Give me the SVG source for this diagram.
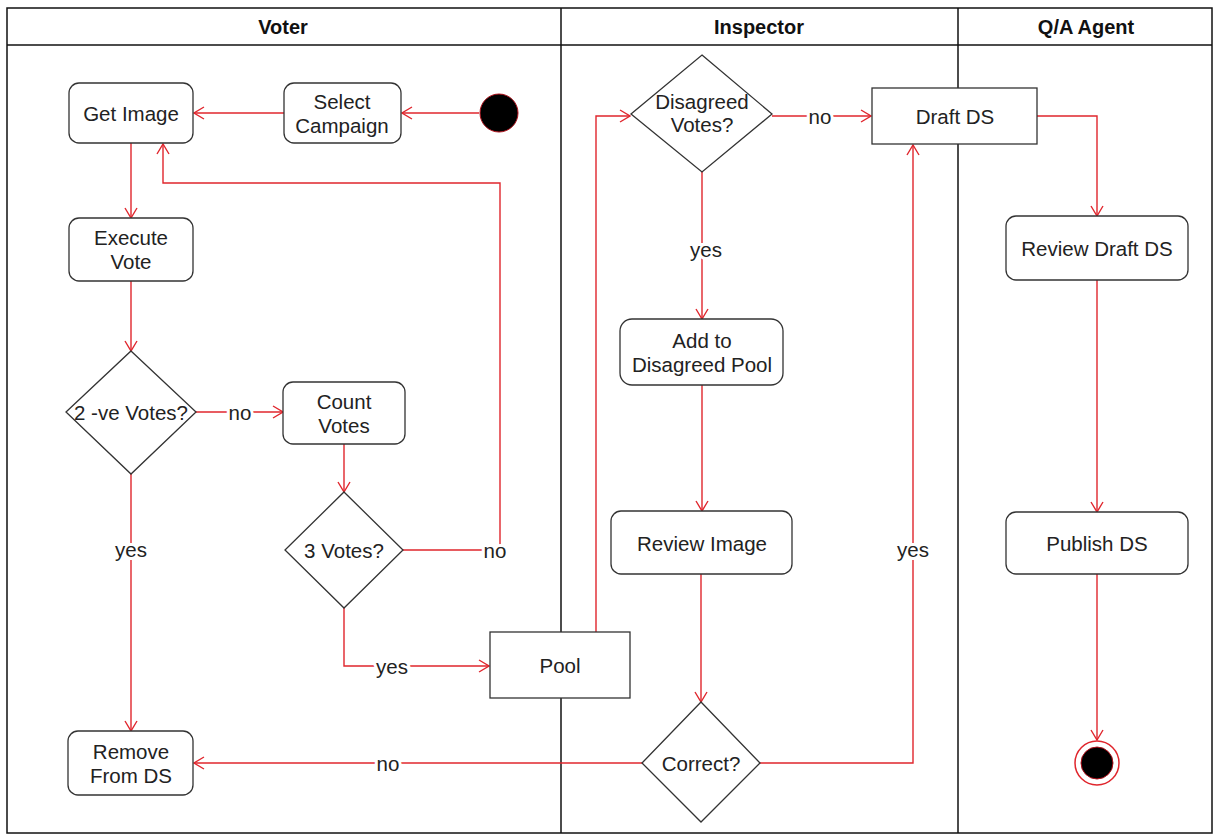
<svg xmlns="http://www.w3.org/2000/svg" width="1219" height="839" viewBox="0 0 1219 839">
<style>
.lane{fill:none;stroke:#111;stroke-width:1.5}
.hdr{font-family:"Liberation Sans",Arial,sans-serif;font-size:20px;font-weight:bold;fill:#111;text-anchor:middle}
.box{fill:#fff;stroke:#333;stroke-width:1.3}
.t{font-family:"Liberation Sans",Arial,sans-serif;font-size:20.5px;fill:#222;text-anchor:middle;dominant-baseline:central}
.c{fill:none;stroke:#e0262d;stroke-width:1.4;marker-end:url(#arr)}
.lbl{font-family:"Liberation Sans",Arial,sans-serif;font-size:20.5px;fill:#222;text-anchor:middle;dominant-baseline:central;stroke:#fff;stroke-width:6;paint-order:stroke}
</style>
<defs>
<marker id="arr" markerUnits="userSpaceOnUse" markerWidth="12" markerHeight="14" viewBox="0 0 12 14" refX="11" refY="7" orient="auto">
<path d="M1,1 L11,7 L1,13" fill="none" stroke="#e0262d" stroke-width="1.4"/>
</marker>
</defs>
<rect width="1219" height="839" fill="#fff"/>
<g id="lanes">
<rect class="lane" x="7" y="8" width="1205" height="825"/>
<line class="lane" x1="7" y1="45" x2="1212" y2="45"/>
<line class="lane" x1="561" y1="8" x2="561" y2="833"/>
<line class="lane" x1="958" y1="8" x2="958" y2="833"/>
<text class="hdr" x="283" y="34">Voter</text>
<text class="hdr" x="759" y="34">Inspector</text>
<text class="hdr" x="1086" y="34">Q/A Agent</text>
</g>
<g id="connectors">
<path class="c" d="M479,113 L402,113"/>
<path class="c" d="M284,113 L194,113"/>
<path class="c" d="M131,143 L131,218"/>
<path class="c" d="M131,281 L131,351"/>
<path class="c" d="M194,412 L283,412"/>
<path class="c" d="M131,474 L131,731"/>
<path class="c" d="M344,444 L344,492"/>
<path class="c" d="M403,550 L500,550 L500,183 L163,183 L163,144"/>
<path class="c" d="M344,607 L344,666 L489,666"/>
<path class="c" d="M596,632 L596,116 L630,116"/>
<path class="c" d="M772,116 L871,116"/>
<path class="c" d="M702,172 L702,319"/>
<path class="c" d="M702,385 L702,511"/>
<path class="c" d="M701,574 L701,702"/>
<path class="c" d="M643,763 L194,763"/>
<path class="c" d="M760,763 L913,763 L913,145"/>
<path class="c" d="M1036,116 L1097,116 L1097,216"/>
<path class="c" d="M1097,280 L1097,512"/>
<path class="c" d="M1097,574 L1097,740"/>
<text class="lbl" x="240" y="412">no</text>
<text class="lbl" x="131" y="549">yes</text>
<text class="lbl" x="495" y="550">no</text>
<text class="lbl" x="392" y="666">yes</text>
<text class="lbl" x="820" y="116">no</text>
<text class="lbl" x="706" y="249">yes</text>
<text class="lbl" x="388" y="763">no</text>
<text class="lbl" x="913" y="549">yes</text>
</g>
<g id="start"><circle cx="499" cy="113" r="19" fill="#000" stroke="#b0101a" stroke-width="1"/></g>
<g id="get-image"><rect class="box" x="69" y="83" width="124" height="60" rx="10"/><text class="t" x="131" y="113">Get Image</text></g>
<g id="select-campaign"><rect class="box" x="284" y="83" width="117" height="60" rx="10"/><text class="t" x="342" y="101">Select</text><text class="t" x="342" y="125">Campaign</text></g>
<g id="execute-vote"><rect class="box" x="69" y="218" width="124" height="63" rx="10"/><text class="t" x="131" y="237">Execute</text><text class="t" x="131" y="261">Vote</text></g>
<g id="two-ve-votes"><polygon class="box" points="131,351 196,412 131,474 66,412"/><text class="t" x="131" y="412">2 -ve Votes?</text></g>
<g id="count-votes"><rect class="box" x="283" y="382" width="122" height="62" rx="10"/><text class="t" x="344" y="401">Count</text><text class="t" x="344" y="425">Votes</text></g>
<g id="three-votes"><polygon class="box" points="344,492 403,550 344,608 285,550"/><text class="t" x="344" y="550">3 Votes?</text></g>
<g id="pool"><rect class="box" x="490" y="632" width="140" height="66"/><text class="t" x="560" y="665">Pool</text></g>
<g id="remove-from-ds"><rect class="box" x="68" y="731" width="125" height="64" rx="10"/><text class="t" x="131" y="751">Remove</text><text class="t" x="131" y="775">From DS</text></g>
<g id="disagreed-votes"><polygon class="box" points="702,55 772,114 702,172 631,114"/><text class="t" x="702" y="101">Disagreed</text><text class="t" x="702" y="124">Votes?</text></g>
<g id="draft-ds"><rect class="box" x="872" y="88" width="165" height="56"/><text class="t" x="955" y="116">Draft DS</text></g>
<g id="add-to-pool"><rect class="box" x="620" y="319" width="163" height="66" rx="12"/><text class="t" x="702" y="340">Add to</text><text class="t" x="702" y="364">Disagreed Pool</text></g>
<g id="review-image"><rect class="box" x="611" y="511" width="181" height="63" rx="10"/><text class="t" x="702" y="543">Review Image</text></g>
<g id="correct"><polygon class="box" points="701,702 760,763 701,822 642,763"/><text class="t" x="701" y="763">Correct?</text></g>
<g id="review-draft-ds"><rect class="box" x="1006" y="216" width="182" height="64" rx="10"/><text class="t" x="1097" y="248">Review Draft DS</text></g>
<g id="publish-ds"><rect class="box" x="1006" y="512" width="182" height="62" rx="10"/><text class="t" x="1097" y="543">Publish DS</text></g>
<g id="end"><circle cx="1097" cy="763" r="22" fill="#fff" stroke="#e0262d" stroke-width="1.5"/><circle cx="1097" cy="763" r="16" fill="#000" stroke="#b0101a" stroke-width="1"/></g>
</svg>
